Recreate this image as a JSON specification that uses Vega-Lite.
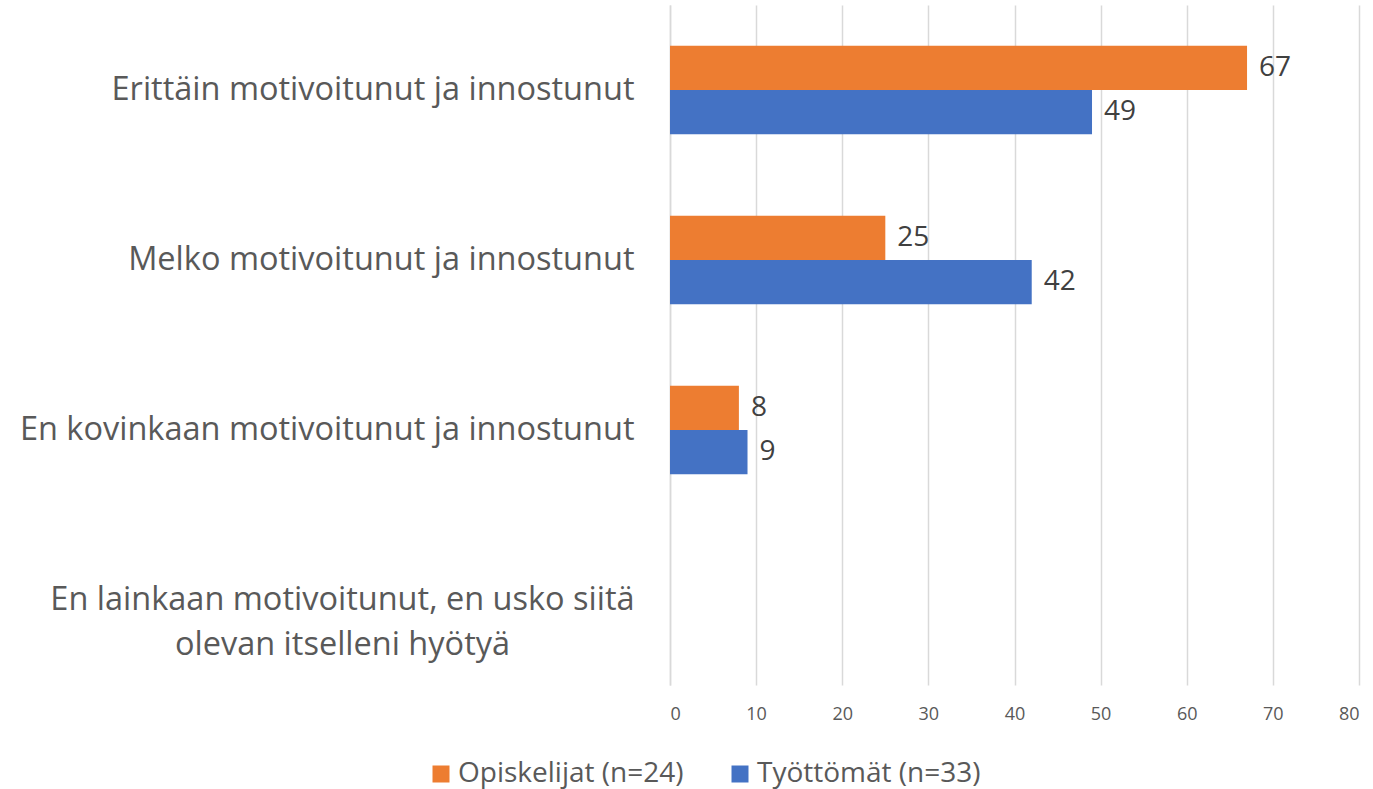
{
  "$schema": "https://vega.github.io/schema/vega-lite/v6.json",
  "autosize": {"type": "none"},
  "width": 689,
  "height": 680,
  "padding": {"left": 670, "top": 5, "right": 14, "bottom": 104},
  "background": "white",
  "config": {"view": {"stroke": null}, "font": "Open Sans"},
  "data": {
    "values": [
      {"kategoria": "Erittäin motivoitunut ja innostunut", "ryhmä": "Opiskelijat (n=24)", "osuus": 67},
      {"kategoria": "Erittäin motivoitunut ja innostunut", "ryhmä": "Työttömät (n=33)", "osuus": 49},
      {"kategoria": "Melko motivoitunut ja innostunut", "ryhmä": "Opiskelijat (n=24)", "osuus": 25},
      {"kategoria": "Melko motivoitunut ja innostunut", "ryhmä": "Työttömät (n=33)", "osuus": 42},
      {"kategoria": "En kovinkaan motivoitunut ja innostunut", "ryhmä": "Opiskelijat (n=24)", "osuus": 8},
      {"kategoria": "En kovinkaan motivoitunut ja innostunut", "ryhmä": "Työttömät (n=33)", "osuus": 9}
    ]
  },
  "encoding": {
    "y": {
      "field": "kategoria",
      "type": "nominal",
      "scale": {
        "domain": [
          "Erittäin motivoitunut ja innostunut",
          "Melko motivoitunut ja innostunut",
          "En kovinkaan motivoitunut ja innostunut",
          "En lainkaan motivoitunut, en usko siitä olevan itselleni hyötyä"
        ],
        "paddingInner": 0.48,
        "paddingOuter": 0.24
      },
      "axis": {
        "title": null,
        "domain": true,
        "domainColor": "#d9d9d9",
        "domainWidth": 1.5,
        "ticks": false,
        "labelFontSize": 32.5,
        "labelColor": "#595959",
        "labelLimit": 700,
        "labelExpr": "datum.value == 'En lainkaan motivoitunut, en usko siitä olevan itselleni hyötyä' ? ['En lainkaan motivoitunut, en usko siitä', 'olevan itselleni hyötyä'] : datum.value",
        "labelLineHeight": 45,
        "labelAlign": {
          "condition": {"test": "datum.value == 'En lainkaan motivoitunut, en usko siitä olevan itselleni hyötyä'", "value": "center"},
          "value": "right"
        },
        "labelPadding": {
          "condition": {"test": "datum.value == 'En lainkaan motivoitunut, en usko siitä olevan itselleni hyötyä'", "value": 328},
          "value": 36
        }
      }
    },
    "yOffset": {
      "field": "ryhmä",
      "type": "nominal",
      "scale": {"domain": ["Opiskelijat (n=24)", "Työttömät (n=33)"], "paddingInner": 0, "paddingOuter": 0}
    },
    "x": {
      "field": "osuus",
      "type": "quantitative",
      "scale": {"domain": [0, 80]},
      "axis": {
        "title": null,
        "values": [0, 10, 20, 30, 40, 50, 60, 70, 80],
        "domain": false,
        "ticks": false,
        "grid": true,
        "gridColor": "#d9d9d9",
        "gridWidth": 1.5,
        "labelFontSize": 18,
        "labelColor": "#595959",
        "labelPadding": 20
      }
    }
  },
  "layer": [
    {
      "mark": {"type": "bar"},
      "encoding": {
        "color": {
          "field": "ryhmä",
          "type": "nominal",
          "scale": {"domain": ["Opiskelijat (n=24)", "Työttömät (n=33)"], "range": ["#ED7D31", "#4472C4"]},
          "legend": {
            "title": null,
            "orient": "none",
            "direction": "horizontal",
            "legendX": -243,
            "legendY": 755,
            "symbolType": "square",
            "symbolSize": 289,
            "symbolStrokeWidth": 0,
            "labelFontSize": 28,
            "labelLimit": 400,
            "labelColor": "#595959",
            "columnPadding": 42,
            "labelOffset": 3
          }
        }
      }
    },
    {
      "mark": {"type": "text", "align": "left", "baseline": "middle", "dx": 12, "fontSize": 28, "color": "#404040"},
      "encoding": {"text": {"field": "osuus", "type": "quantitative"}}
    }
  ]
}
